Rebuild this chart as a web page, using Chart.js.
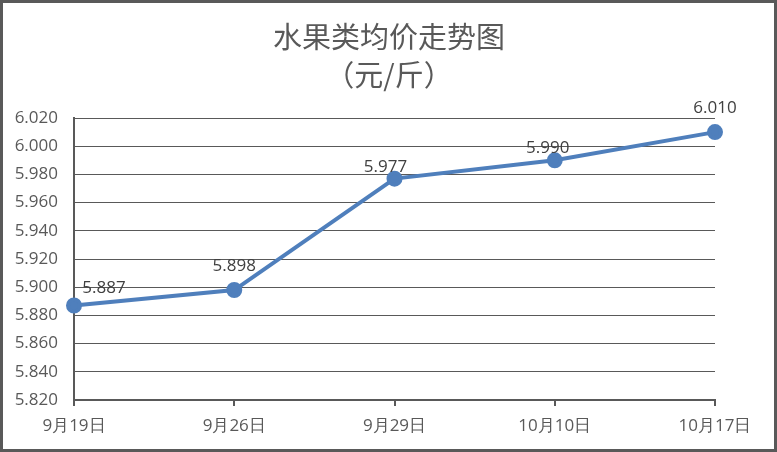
<!DOCTYPE html>
<html>
<head>
<meta charset="utf-8">
<script src="https://cdn.jsdelivr.net/npm/chart.js@4"></script>
<style>
  html, body { margin: 0; padding: 0; background: #fff; }
  #wrap { width: 777px; height: 452px; }
</style>
</head>
<body>
<div id="wrap"><canvas id="priceChart" width="777" height="452"></canvas></div>
<script>
const dates = ['9月19日', '9月26日', '9月29日', '10月10日', '10月17日'];
const avgPrice = [5.887, 5.898, 5.977, 5.990, 6.010];
const yMin = 5.82, yMax = 6.02, yStep = 0.02;

const GREY = '#595959';
const BLUE = '#4f7fbc';

// outer frame + two-line title
const framePlugin = {
    id: 'frame',
    beforeDraw(chart) {
        const c = chart.ctx;
        c.save();
        c.fillStyle = '#fff';
        c.fillRect(0, 0, chart.width, chart.height);
        c.restore();
    },
    afterDraw(chart) {
        const c = chart.ctx;
        c.save();
        c.strokeStyle = GREY;
        c.lineWidth = 3;
        c.strokeRect(1.5, 1.5, chart.width - 3, chart.height - 3);
        c.fillStyle = GREY;
        c.textAlign = 'center';
        c.textBaseline = 'middle';
        c.font = '29px "Noto Sans CJK SC"';
        c.fillText('水果类均价走势图', 389, 37);
        c.fillText('（元/斤）', 389, 75);
        c.restore();
    }
};

// value labels next to the points
const labelShift = [[30, -17], [0, -24], [-9, -11], [-7, -12], [0, -24]];
const valueLabels = {
    id: 'valueLabels',
    afterDatasetsDraw(chart) {
        const c = chart.ctx;
        const meta = chart.getDatasetMeta(0);
        c.save();
        c.fillStyle = '#404040';
        c.font = '17px "Open Sans"';
        c.textAlign = 'center';
        c.textBaseline = 'middle';
        meta.data.forEach((pt, i) => {
            const s = labelShift[i];
            c.fillText(avgPrice[i].toFixed(3), pt.x + s[0], pt.y + s[1]);
        });
        c.restore();
    }
};

new Chart(document.getElementById('priceChart'), {
    type: 'line',
    data: {
        labels: dates,
        datasets: [{
            data: avgPrice,
            borderColor: BLUE,
            backgroundColor: BLUE,
            borderWidth: 4,
            pointRadius: 6,
            pointHoverRadius: 6,
            tension: 0
        }]
    },
    options: {
        responsive: false,
        animation: false,
        layout: { padding: { top: 118, right: 62, bottom: 8, left: 0 } },
        plugins: { legend: { display: false }, tooltip: { enabled: false } },
        scales: {
            x: {
                offset: false,
                grid: { drawOnChartArea: false, color: GREY, lineWidth: 2, tickLength: 6 },
                border: { color: GREY, width: 2 },
                ticks: { color: GREY, font: { family: 'Open Sans', size: 17 }, maxRotation: 0, padding: 10 },
                afterFit(s) { s.height = 44; }
            },
            y: {
                min: yMin,
                max: yMax,
                grid: { color: GREY, lineWidth: 1, drawTicks: false },
                border: { color: GREY, width: 2 },
                ticks: {
                    stepSize: yStep,
                    color: GREY,
                    font: { family: 'Open Sans', size: 17 },
                    padding: 16,
                    callback: v => v.toFixed(3)
                },
                afterFit(s) { s.width = 74; }
            }
        }
    },
    plugins: [framePlugin, valueLabels]
});
</script>
</body>
</html>
